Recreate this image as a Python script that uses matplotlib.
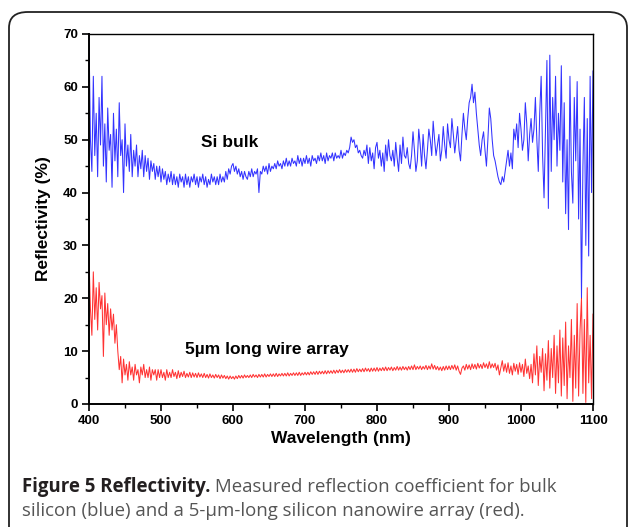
"""Reflectivity of bulk Si vs. 5 um nanowire array (Figure 5 recreation)."""

import matplotlib
matplotlib.use("Agg")
import matplotlib.pyplot as plt
import numpy as np
from matplotlib.patches import FancyBboxPatch
from matplotlib.ticker import MultipleLocator

# wavelength grid (nm), one sample every 2 nm
wavelength = np.arange(400, 1101, 2)

# bulk silicon reflectivity (%), rows of 20 nm
si_bulk = [
    70, 50, 44, 62, 47, 55, 43, 58, 49, 62,                 # 400
    45, 53, 42, 56, 48, 51, 41, 55, 46, 52,                 # 420
    43, 57, 47, 50, 40, 53, 45, 49, 44, 51,                 # 440
    43, 48, 45, 49, 43, 47, 44.5, 48, 43, 47,               # 460
    44, 46.5, 42.5, 46, 44, 45.5, 42.5, 45, 43, 45,         # 480
    42, 44.5, 42.5, 44, 41.5, 43.5, 42, 44, 41.5, 43.5,     # 500
    41.5, 43, 41, 43.5, 42, 43, 41, 43.5, 41.5, 43,         # 520
    41, 43, 42, 43.5, 41.5, 43, 41, 43, 42, 43.5,           # 540
    41.5, 43, 41, 42.5, 41.5, 43.5, 42, 43, 41.5, 43,       # 560
    41.5, 43.5, 42, 43, 42, 44, 42.5, 44.5, 43.5, 45,       # 580
    45.5, 44, 45, 43.5, 44.5, 43, 44, 42.5, 44, 43,         # 600
    42.5, 44, 43, 44.5, 43, 44, 43.5, 44.5, 40, 44,         # 620
    43.5, 45, 44, 45, 43.5, 45.5, 44, 45, 44.5, 45.5,       # 640
    44.5, 46, 45, 45.5, 44.5, 46, 45, 46.5, 45, 46,         # 660
    45, 46.5, 45.5, 46, 45, 47, 45.5, 46.5, 45, 46.5,       # 680
    45.5, 47, 45.5, 46.5, 45, 47, 46, 46.5, 45.5, 47,       # 700
    46, 47.5, 46, 47, 45.5, 47.5, 46, 47, 46.5, 47.5,       # 720
    46, 47.5, 46.5, 47, 46.5, 48, 46.5, 47.5, 47, 48,       # 740
    47.5, 48.5, 50.5, 49.5, 50, 48.5, 49, 47.5, 48, 47,     # 760
    46.5, 48, 47, 49, 45.5, 48.5, 46, 47.5, 44.5, 48.5,     # 780
    49.5, 46.5, 48, 45, 47.5, 44, 49, 46, 50, 47,           # 800
    46, 48, 45, 49.5, 46.5, 44, 49, 45.5, 50.5, 47,         # 820
    46.5, 48.5, 45.5, 44.5, 47, 51.5, 48, 44, 46, 52,       # 840
    49, 45, 51, 47, 44.5, 48, 52, 50, 47, 53.5,             # 860
    50, 47, 49, 51, 46, 48, 52.5, 49, 46.5, 53,             # 880
    50, 48.5, 54, 51, 47.5, 50, 52.5, 48, 46, 51,           # 900
    55, 52, 50, 54, 57, 58, 60.5, 57, 59, 55,               # 920
    52, 49, 47, 50, 51.5, 48, 45, 50, 56, 54,               # 940
    50, 47, 46, 44.5, 43, 42, 41.5, 43, 42, 44,             # 960
    46, 48, 45, 47.5, 44.5, 52, 50, 53, 48.5, 55,           # 980
    52, 48, 50, 57, 53, 46, 51, 54, 49.5, 52,               # 1000
    58, 50, 44, 55, 62, 47, 39, 52, 65, 37,                 # 1020
    66, 44, 58, 50, 62, 45, 55, 48, 64, 42,                 # 1040
    57, 36, 50, 33, 62, 44, 38, 58, 46, 61,                 # 1060
    35, 52, 20, 45, 58, 30, 54, 28, 62, 40,                 # 1080
    63,                                                     # 1100
]

# 5 um long nanowire array reflectivity (%)
wire_array = [
    27.5, 18, 13, 25, 16, 22, 14, 23, 18, 20.5,             # 400
    9, 21, 15, 19, 13, 18, 14, 17, 11.5, 15,                # 420
    10, 6.5, 9, 4, 8.5, 5.5, 7.5, 4.5, 8, 5.5,              # 440
    7, 4.5, 7.5, 5.5, 6.5, 4, 7, 5.5, 7.5, 5,               # 460
    6.5, 5, 7, 4.5, 6.5, 5.5, 6.5, 4.5, 6.5, 5,             # 480
    6.5, 5, 6, 4.5, 6.5, 5, 6, 5, 6.5, 5.2,                 # 500
    6, 4.8, 6.3, 5, 6, 5.2, 6.2, 5, 5.8, 5.1,               # 520
    6, 5, 5.9, 5.1, 5.8, 5, 5.9, 5.1, 5.7, 5,               # 540
    5.8, 5, 5.6, 4.9, 5.7, 5, 5.5, 4.9, 5.6, 5,             # 560
    5.5, 4.8, 5.5, 4.9, 5.4, 4.8, 5.3, 4.7, 5.3, 4.8,       # 580
    5.2, 4.7, 5.3, 4.8, 5.4, 4.9, 5.4, 4.9, 5.5, 5,         # 600
    5.4, 5, 5.5, 5, 5.6, 5.1, 5.5, 5, 5.6, 5.1,             # 620
    5.6, 5.1, 5.7, 5.1, 5.6, 5.2, 5.7, 5.2, 5.7, 5.2,       # 640
    5.8, 5.2, 5.7, 5.3, 5.8, 5.3, 5.8, 5.3, 5.9, 5.3,       # 660
    5.8, 5.4, 5.9, 5.4, 5.9, 5.4, 6, 5.4, 5.9, 5.5,         # 680
    6, 5.5, 6, 5.5, 6.1, 5.6, 6.1, 5.6, 6.2, 5.6,           # 700
    6.2, 5.7, 6.2, 5.7, 6.3, 5.7, 6.3, 5.8, 6.3, 5.8,       # 720
    6.4, 5.8, 6.4, 5.9, 6.5, 5.9, 6.4, 5.9, 6.5, 6,         # 740
    6.5, 6, 6.6, 6, 6.6, 6, 6.7, 6.1, 6.6, 6.1,             # 760
    6.7, 6.1, 6.8, 6.2, 6.7, 6.1, 6.8, 6.2, 6.8, 6.2,       # 780
    6.9, 6.2, 6.8, 6.3, 6.9, 6.3, 7, 6.3, 6.9, 6.4,         # 800
    7, 6.3, 6.9, 6.4, 7.1, 6.4, 7, 6.4, 7.1, 6.5,           # 820
    7, 6.4, 7.1, 6.5, 7.2, 6.5, 7.4, 6.5, 7.1, 6.6,         # 840
    7.2, 6.5, 7.1, 6.6, 7.3, 6.5, 7.2, 6.6, 7.6, 6.6,       # 860
    7.3, 6.5, 7.1, 6.4, 7, 6.3, 7.1, 6.4, 7.2, 6.5,         # 880
    7.2, 6.5, 7.3, 6.6, 7.4, 6.4, 7.2, 6.2, 5.6, 6.8,       # 900
    7.2, 6.4, 7.5, 6.6, 7.4, 6.5, 7.6, 6.7, 7.5, 6.6,       # 920
    7.7, 6.8, 7.5, 6.7, 7.8, 6.9, 7.6, 6.7, 8, 6.8,         # 940
    7.6, 6.9, 7.7, 6.4, 7.4, 5.5, 6.8, 8.2, 6.2, 7.6,       # 960
    6, 7.8, 5.8, 7.2, 5.5, 7.7, 6.2, 7.5, 5.6, 7.8,         # 980
    6, 7.5, 5.2, 8.5, 5.8, 7.2, 4.8, 7.5, 4, 9.5,           # 1000
    5.5, 11, 3.5, 9, 6, 10.5, 2.5, 9.5, 4.5, 12,            # 1020
    3, 10.5, 5, 13, 2, 11, 4, 14, 1.5, 12.5,                # 1040
    3.5, 15.5, 1, 11, 5, 16, 0.5, 13, 3, 19,                # 1060
    1.5, 14, 20, 2, 16, 0.3, 22, 4, 13, 1,                  # 1080
    17,                                                     # 1100
]

series_labels = ["Si bulk", "5\u00b5m long wire array"]
caption_bold = "Figure 5 Reflectivity."
caption_rest = " Measured reflection coefficient for bulk"
caption_line2 = "silicon (blue) and a 5-\u00b5m-long silicon nanowire array (red)."

assert len(si_bulk) == len(wavelength) and len(wire_array) == len(wavelength)

fig = plt.figure(figsize=(6.29, 5.27), dpi=100)
W, H = 629, 527

# rounded frame around the figure panel
frame = FancyBboxPatch((9 / W, -0.2), 618 / W, 1.2 - 12 / H,
                       boxstyle="round,pad=0,rounding_size=0.03",
                       transform=fig.transFigure, fill=False,
                       ec="#222222", lw=1.3)
fig.patches.append(frame)

ax = fig.add_axes([89 / W, 1 - 404 / H, 504 / W, 370 / H])
ax.plot(wavelength, si_bulk, color="#0000ff", lw=0.75, alpha=0.8)
ax.plot(wavelength, wire_array, color="#ff0000", lw=0.75, alpha=0.8)

ax.set_xlim(400, 1100)
ax.set_ylim(0, 70)
ax.xaxis.set_major_locator(MultipleLocator(100))
ax.xaxis.set_minor_locator(MultipleLocator(50))
ax.yaxis.set_major_locator(MultipleLocator(10))
ax.yaxis.set_minor_locator(MultipleLocator(5))
ax.tick_params(which="major", direction="out", length=5, width=1.2,
               labelsize=9.5, pad=3)
ax.tick_params(which="minor", direction="out", length=3, width=1.0)
for lab in ax.get_xticklabels() + ax.get_yticklabels():
    lab.set_fontweight("bold")
    lab.set_family("Liberation Sans")
for side in ["left", "bottom"]:
    ax.spines[side].set_linewidth(1.4)
for side in ["top", "right"]:
    ax.spines[side].set_linewidth(1.0)

ax.set_xlabel("Wavelength (nm)", fontsize=12.5, fontweight="bold",
              family="Liberation Sans", labelpad=3)
ax.set_ylabel("Reflectivity (%)", fontsize=12.5, fontweight="bold",
              family="Liberation Sans", labelpad=9)

ax.text(596, 49.4, series_labels[0], fontsize=12.5, fontweight="bold",
        family="Liberation Sans", ha="center", va="center")
ax.text(647, 10.4, series_labels[1], fontsize=12.5, fontweight="bold",
        family="Liberation Sans", ha="center", va="center")

# caption: bold lead-in followed by grey body text
t1 = fig.text(22 / W, 1 - 492 / H, caption_bold, fontsize=13.4,
              fontweight="bold", family="Open Sans", color="#231f20",
              va="baseline")
fig.canvas.draw()
bb = t1.get_window_extent()
fig.text(bb.x1 / W, 1 - 492 / H, caption_rest, fontsize=13.4,
         family="Open Sans", color="#555555", va="baseline")
fig.text(22 / W, 1 - 516 / H, caption_line2, fontsize=13.4,
         family="Open Sans", color="#555555", va="baseline")

fig.savefig("out.png", dpi=100)
plt.close(fig)
